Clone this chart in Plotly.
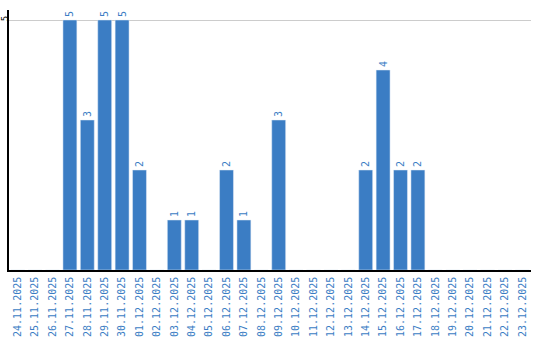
import plotly.graph_objects as go

dates = ["24.11.2025", "25.11.2025", "26.11.2025", "27.11.2025", "28.11.2025",
         "29.11.2025", "30.11.2025", "01.12.2025", "02.12.2025", "03.12.2025",
         "04.12.2025", "05.12.2025", "06.12.2025", "07.12.2025", "08.12.2025",
         "09.12.2025", "10.12.2025", "11.12.2025", "12.12.2025", "13.12.2025",
         "14.12.2025", "15.12.2025", "16.12.2025", "17.12.2025", "18.12.2025",
         "19.12.2025", "20.12.2025", "21.12.2025", "22.12.2025", "23.12.2025"]
counts = [0, 0, 0, 5, 3, 5, 5, 2, 0, 1, 1, 0, 2, 1, 0, 3, 0, 0, 0, 0,
          2, 4, 2, 2, 0, 0, 0, 0, 0, 0]

blue = "#3b7dc4"
labels = [str(v) if v > 0 else "" for v in counts]

fig = go.Figure(go.Bar(
    x=dates, y=counts, marker_color=blue, text=labels,
    textposition="outside", textangle=-90, cliponaxis=False,
    textfont=dict(color=blue, size=10, family="DejaVu Sans Mono"),
))
fig.update_layout(
    width=540, height=340, margin=dict(l=9, r=9, t=10, b=70),
    plot_bgcolor="white", paper_bgcolor="white", bargap=0.2,
    showlegend=False,
    font=dict(family="DejaVu Sans Mono", size=10),
)
fig.update_xaxes(type="category", tickangle=-90, showline=True, linecolor="black",
                 linewidth=1.5, ticks="", showgrid=False, automargin=False,
                 ticklabelstandoff=1,
                 tickfont=dict(color=blue, size=10, family="DejaVu Sans Mono"))
fig.update_yaxes(range=[0, 5.2], tickvals=[5], ticktext=["5"], tickangle=-90,
                 showline=True, linecolor="black", linewidth=1.5, showgrid=True,
                 gridcolor="#cccccc", zeroline=False, automargin=False, ticks="",
                 ticklabelstandoff=-4,
                 tickfont=dict(color="black", size=9, family="DejaVu Sans Mono"))
fig.write_html("out.html")
